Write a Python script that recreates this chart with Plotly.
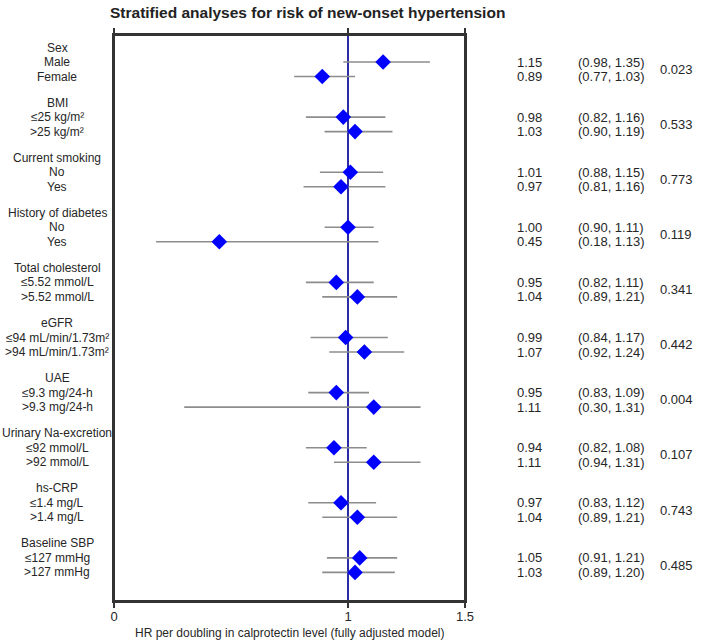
import plotly.graph_objects as go

# ---------------- data ----------------
group_names = ["Sex", "BMI", "Current smoking", "History of diabetes", "Total cholesterol",
               "eGFR", "UAE", "Urinary Na-excretion", "hs-CRP", "Baseline SBP"]
sub_labels = [
    ["Male", "Female"],
    ["≤25 kg/m²", ">25 kg/m²"],
    ["No", "Yes"],
    ["No", "Yes"],
    ["≤5.52 mmol/L", ">5.52 mmol/L"],
    ["≤94 mL/min/1.73m²", ">94 mL/min/1.73m²"],
    ["≤9.3 mg/24-h", ">9.3 mg/24-h"],
    ["≤92 mmol/L", ">92 mmol/L"],
    ["≤1.4 mg/L", ">1.4 mg/L"],
    ["≤127 mmHg", ">127 mmHg"],
]
hr = [[1.15, 0.89], [0.98, 1.03], [1.01, 0.97], [1.00, 0.45], [0.95, 1.04],
      [0.99, 1.07], [0.95, 1.11], [0.94, 1.11], [0.97, 1.04], [1.05, 1.03]]
ci_low = [[0.98, 0.77], [0.82, 0.90], [0.88, 0.81], [0.90, 0.18], [0.82, 0.89],
          [0.84, 0.92], [0.83, 0.30], [0.82, 0.94], [0.83, 0.89], [0.91, 0.89]]
ci_high = [[1.35, 1.03], [1.16, 1.19], [1.15, 1.16], [1.11, 1.13], [1.11, 1.21],
           [1.17, 1.24], [1.09, 1.31], [1.08, 1.31], [1.12, 1.21], [1.21, 1.20]]
p_interaction = ["0.023", "0.533", "0.773", "0.119", "0.341",
                 "0.442", "0.004", "0.107", "0.743", "0.485"]
x_tick_vals = [0, 1, 1.5]
x_tick_text = ["0", "1", "1.5"]

# ---------------- layout constants ----------------
W, H = 709, 644
ML, MT = 114, 35
PLOT_R, PLOT_B = 465, 601
MR, MB = W - PLOT_R, H - PLOT_B
PW = W - ML - MR
PH = H - MT - MB
FIRST = 12.5
GROUP_STEP = 55.1
ROW_STEP = 14.5

def px_to_paper_x(px):
    return (px - ML) / PW

def px_to_paper_y(py):
    return 1 - (py - MT) / PH

xs, ys, ep, em = [], [], [], []
annotations = []
font_txt = "Liberation Sans, Arial, sans-serif"
tc = "#262626"

for g, name in enumerate(group_names):
    y_head = FIRST + g * GROUP_STEP
    annotations.append(dict(x=px_to_paper_x(57), xref="paper", y=y_head, yref="y",
                            text=name, showarrow=False, xanchor="center", yanchor="middle",
                            font=dict(family=font_txt, size=12, color=tc)))
    row_ys = []
    for r in range(2):
        y = y_head + ROW_STEP * (r + 1)
        row_ys.append(y)
        xs.append(hr[g][r]); ys.append(y)
        ep.append(ci_high[g][r] - hr[g][r]); em.append(hr[g][r] - ci_low[g][r])
        annotations.append(dict(x=px_to_paper_x(57), xref="paper", y=y, yref="y",
                                text=sub_labels[g][r], showarrow=False, xanchor="center",
                                yanchor="middle", font=dict(family=font_txt, size=12, color=tc)))
        annotations.append(dict(x=px_to_paper_x(529), xref="paper", y=y, yref="y",
                                text=f"{hr[g][r]:.2f}", showarrow=False, xanchor="center",
                                yanchor="middle", font=dict(family=font_txt, size=13, color=tc)))
        annotations.append(dict(x=px_to_paper_x(611), xref="paper", y=y, yref="y",
                                text=f"({ci_low[g][r]:.2f}, {ci_high[g][r]:.2f})", showarrow=False,
                                xanchor="center", yanchor="middle",
                                font=dict(family=font_txt, size=13, color=tc)))
    annotations.append(dict(x=px_to_paper_x(676), xref="paper", y=sum(row_ys) / 2, yref="y",
                            text=p_interaction[g], showarrow=False, xanchor="center",
                            yanchor="middle", font=dict(family=font_txt, size=13, color=tc)))

# headers
for label, cx in [("HR", 529), ("95% CI", 604), ("<i>P</i><sub><i>interaction</i></sub>", 675)]:
    annotations.append(dict(x=px_to_paper_x(cx), xref="paper", y=-2, yref="y",
                            text=label, showarrow=False, xanchor="center", yanchor="middle",
                            font=dict(family=font_txt, size=13, color=tc)))

# title
annotations.append(dict(x=px_to_paper_x(307), xref="paper", y=px_to_paper_y(13), yref="paper",
                        text="<b>Stratified analyses for risk of new-onset hypertension</b>",
                        showarrow=False, xanchor="center", yanchor="middle",
                        font=dict(family=font_txt, size=15.5, color="#222222")))

# x-axis title
annotations.append(dict(x=px_to_paper_x(290), xref="paper", y=px_to_paper_y(633), yref="paper",
                        text="HR per doubling in calprotectin level (fully adjusted model)",
                        showarrow=False, xanchor="center", yanchor="middle",
                        font=dict(family=font_txt, size=12, color=tc)))

fig = go.Figure()
fig.add_trace(go.Scatter(
    x=xs, y=ys, mode="markers",
    marker=dict(symbol="diamond", size=12, color="#0000ff", line=dict(width=0)),
    error_x=dict(type="data", symmetric=False, array=ep, arrayminus=em,
                 color="#8c8c8c", thickness=1.6, width=0),
    showlegend=False, hoverinfo="skip", cliponaxis=False,
))

fig.add_shape(type="line", x0=1, x1=1, xref="x", y0=0, y1=1, yref="paper",
              line=dict(color="#2b2ba6", width=2), layer="below")
fig.add_shape(type="rect", x0=0, x1=1, y0=0, y1=1, xref="paper", yref="paper",
              line=dict(color="#333333", width=2), fillcolor="rgba(0,0,0,0)", layer="above")

fig.update_layout(
    width=W, height=H,
    margin=dict(l=ML, r=MR, t=MT, b=MB, pad=0, autoexpand=False),
    paper_bgcolor="white", plot_bgcolor="white",
    annotations=annotations,
    font=dict(family=font_txt, color=tc),
    xaxis=dict(range=[0, 1.5], tickvals=x_tick_vals, ticktext=x_tick_text,
               ticks="outside", ticklen=5, tickwidth=2, tickcolor="#333333",
               ticklabelstandoff=-3,
               showline=True, linecolor="#333333", linewidth=2, mirror="all",
               showgrid=False, zeroline=False, automargin=False,
               tickfont=dict(family=font_txt, size=13, color=tc)),
    yaxis=dict(range=[PH, 0], showticklabels=False, ticks="", showgrid=False, automargin=False,
               zeroline=False, showline=True, linecolor="#333333", linewidth=2, mirror="all"),
)

fig.write_html("out.html", config={"displayModeBar": False},
               post_script="document.body.style.margin='0';document.body.style.overflow='hidden';")
